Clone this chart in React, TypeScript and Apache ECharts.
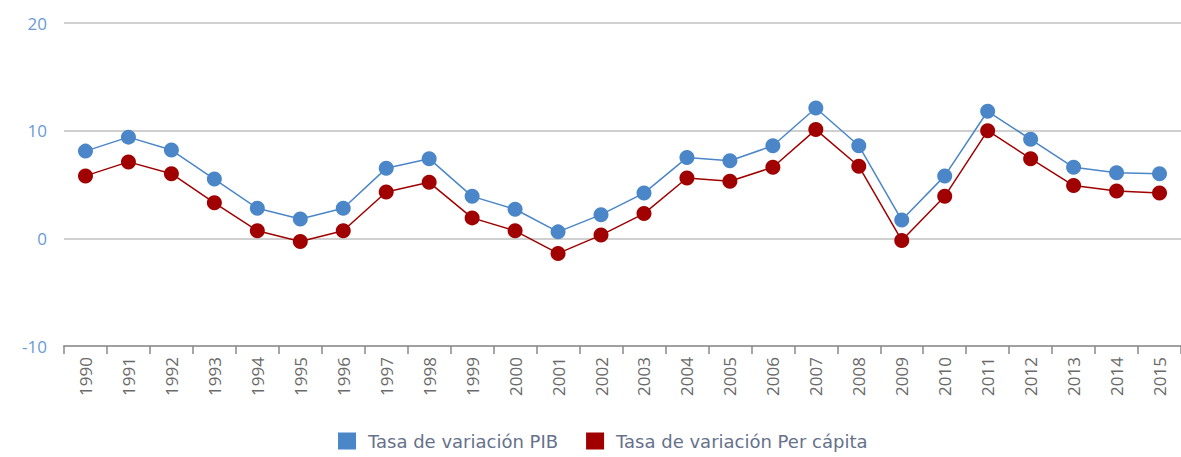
import React, { useEffect, useRef } from "react";
import * as echarts from "echarts";

const years = ["1990","1991","1992","1993","1994","1995","1996","1997","1998","1999","2000","2001","2002","2003","2004","2005","2006","2007","2008","2009","2010","2011","2012","2013","2014","2015"];
const pib = [8.1, 9.4, 8.2, 5.5, 2.8, 1.8, 2.8, 6.5, 7.4, 3.9, 2.7, 0.6, 2.2, 4.2, 7.5, 7.2, 8.6, 12.1, 8.6, 1.7, 5.8, 11.8, 9.2, 6.6, 6.1, 6.0];
const perCapita = [5.8, 7.1, 6.0, 3.3, 0.7, -0.3, 0.7, 4.3, 5.2, 1.9, 0.7, -1.4, 0.3, 2.3, 5.6, 5.3, 6.6, 10.1, 6.7, -0.2, 3.9, 10.0, 7.4, 4.9, 4.4, 4.2];
const seriesNames = ["Tasa de variación PIB", "Tasa de variación Per cápita"];
const colors = ["#4a86c8", "#a00000"];

export default function App() {
  const ref = useRef<HTMLDivElement>(null);
  useEffect(() => {
    const chart = echarts.init(ref.current!, null, { renderer: "svg" });
    const font = "'Open Sans', 'Noto Sans', sans-serif";
    chart.setOption({
      animation: false,
      backgroundColor: "#ffffff",
      grid: { left: 64, right: -9, top: 23, bottom: 111, containLabel: false },
      legend: {
        bottom: 2,
        left: 333,
        itemWidth: 18,
        itemHeight: 17,
        itemGap: 28,
        icon: "rect",
        textStyle: { color: "#66718a", fontSize: 18, fontFamily: "'DejaVu Sans', sans-serif", padding: [0, 0, 0, 7] },
        data: seriesNames,
      },
      xAxis: {
        type: "category",
        data: years,
        boundaryGap: true,
        axisLine: { onZero: false, lineStyle: { color: "#a0a0a0", width: 2 } },
        axisTick: { show: true, length: 8, lineStyle: { color: "#888", width: 1.5 } },
        axisLabel: { rotate: 90, color: "#6a6a6a", fontSize: 17, fontFamily: font, margin: 11, interval: 0 },
        splitLine: { show: false },
      },
      yAxis: {
        type: "value",
        min: -10,
        max: 20,
        interval: 10,
        axisLine: { show: false },
        axisTick: { show: false },
        axisLabel: { color: "#6a9ad4", fontSize: 17, fontFamily: font, margin: 17 },
        splitLine: { lineStyle: { color: "#d0d0d0", width: 2 } },
      },
      series: [
        {
          name: seriesNames[0],
          type: "line",
          data: pib,
          symbol: "circle",
          symbolSize: 15,
          color: colors[0],
          lineStyle: { width: 1.5, color: colors[0] },
          itemStyle: { color: colors[0] },
          z: 2,
        },
        {
          name: seriesNames[1],
          type: "line",
          data: perCapita,
          symbol: "circle",
          symbolSize: 15,
          color: colors[1],
          lineStyle: { width: 1.5, color: colors[1] },
          itemStyle: { color: colors[1] },
          z: 3,
        },
      ],
    });
    return () => chart.dispose();
  }, []);
  return (
    <div
      ref={ref}
      style={{ position: "fixed", left: 0, top: 0, width: 1181, height: 457, overflow: "hidden" }}
    />
  );
}
